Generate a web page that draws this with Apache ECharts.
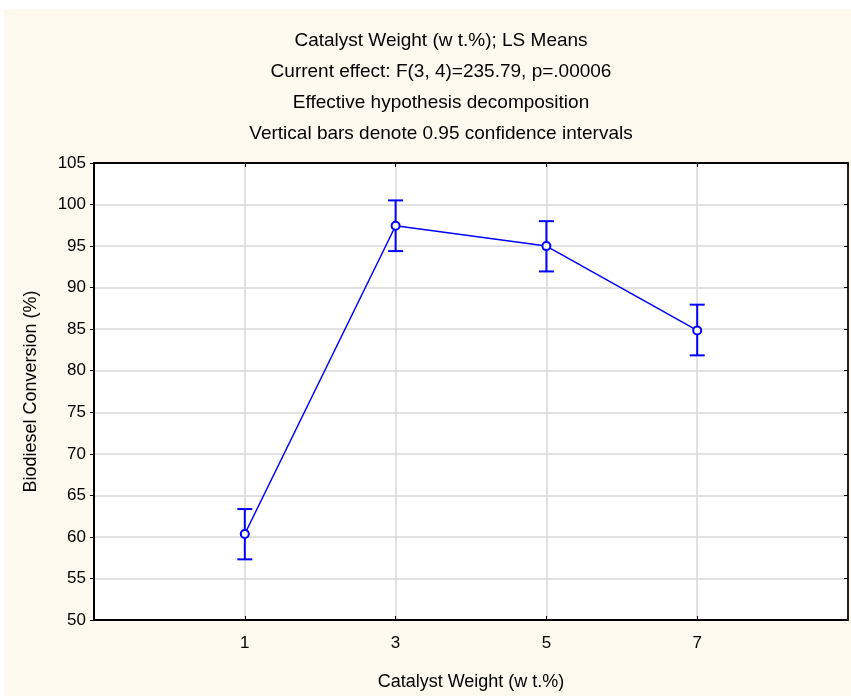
<!DOCTYPE html>
<html>
<head>
<meta charset="utf-8">
<script src="https://cdn.jsdelivr.net/npm/echarts@6/dist/echarts.min.js"></script>
<style>
body {
    margin: 0;
    background: #ffffff;
    width: 851px;
    height: 696px;
    overflow: hidden;
}
#chart {
    position: absolute;
    left: 4px;
    top: 9px;
    width: 847px;
    height: 687px;
    background: #fdf9ee;
}
</style>
</head>
<body>
<div id="chart"></div>
<script>
// catalyst weight levels (wt.%)
const weights = [1, 3, 5, 7];
// LS means of biodiesel conversion (%)
const means = [60.35, 97.45, 95.0, 84.85];
// 0.95 confidence limits
const lower = [57.3, 94.4, 91.95, 81.85];
const upper = [63.35, 100.5, 98.0, 87.95];

const titleLines = [
    "Catalyst Weight (w t.%); LS Means",
    "Current effect: F(3, 4)=235.79, p=.00006",
    "Effective hypothesis decomposition",
    "Vertical bars denote 0.95 confidence intervals",
];

const font = "Liberation Sans, Arial, sans-serif";

let chart = echarts.init(document.getElementById("chart"));

chart.setOption({
    animation: false,
    title: {
        text: titleLines.join("\n"),
        left: 432,
        top: 11,
        textAlign: "center",
        textStyle: {
            fontFamily: font,
            fontSize: 19,
            fontWeight: "normal",
            color: "#000",
            lineHeight: 31,
        },
    },
    grid: {
        left: 90,
        right: 3,
        top: 154,
        bottom: 76,
        show: true,
        backgroundColor: "#ffffff",
        borderWidth: 0,
    },
    xAxis: [
        {
            type: "value",
            min: -1,
            max: 9,
            interval: 2,
            name: "Catalyst Weight (w t.%)",
            nameLocation: "middle",
            nameGap: 53,
            nameTextStyle: { fontFamily: font, fontSize: 18, color: "#000" },
            axisLine: { show: true, onZero: false, lineStyle: { color: "#000", width: 2 } },
            axisTick: { show: true, inside: true, length: 4, lineStyle: { color: "#000" } },
            axisLabel: {
                fontFamily: font,
                fontSize: 17,
                color: "#000",
                margin: 15,
                formatter: (v) => (weights.includes(v) ? String(v) : ""),
            },
            splitLine: { show: true, lineStyle: { color: "#d9d9d9", width: 1.5 } },
        },
        {
            type: "value",
            position: "top",
            min: -1,
            max: 9,
            interval: 2,
            axisLine: { show: true, onZero: false, lineStyle: { color: "#000", width: 2 } },
            axisTick: { show: true, inside: true, length: 4, lineStyle: { color: "#000" } },
            axisLabel: { show: false },
            splitLine: { show: false },
            z: 5,
        },
    ],
    yAxis: [
        {
            type: "value",
            min: 50,
            max: 105,
            interval: 5,
            name: "Biodiesel Conversion (%)",
            nameLocation: "middle",
            nameGap: 54,
            nameTextStyle: { fontFamily: font, fontSize: 18, color: "#000" },
            axisLine: { show: true, onZero: false, lineStyle: { color: "#000", width: 2 } },
            axisTick: { show: true, length: 4, lineStyle: { color: "#000" } },
            axisLabel: { fontFamily: font, fontSize: 17, color: "#000", margin: 8 },
            splitLine: { show: true, lineStyle: { color: "#d9d9d9", width: 1.5 } },
        },
        {
            type: "value",
            position: "right",
            min: 50,
            max: 105,
            interval: 5,
            axisLine: { show: true, onZero: false, lineStyle: { color: "#222", width: 2 } },
            axisTick: { show: true, inside: true, length: 4, lineStyle: { color: "#000" } },
            axisLabel: { show: false },
            splitLine: { show: false },
            z: 5,
        },
    ],
    series: [
        {
            type: "line",
            data: weights.map((w, i) => [w, means[i]]),
            symbol: "circle",
            symbolSize: 8,
            itemStyle: { color: "#ffffff", borderColor: "#0000ff", borderWidth: 2 },
            lineStyle: { color: "#0000ff", width: 1.5 },
            z: 4,
        },
        {
            type: "custom",
            data: weights.map((w, i) => [w, lower[i], upper[i]]),
            renderItem: (params, api) => {
                let lo = api.coord([api.value(0), api.value(1)]);
                let hi = api.coord([api.value(0), api.value(2)]);
                let half = 7.5;
                let style = { stroke: "#0000ff", lineWidth: 2 };
                return {
                    type: "group",
                    children: [
                        { type: "line", shape: { x1: lo[0], y1: lo[1], x2: hi[0], y2: hi[1] }, style },
                        { type: "line", shape: { x1: hi[0] - half, y1: hi[1], x2: hi[0] + half, y2: hi[1] }, style },
                        { type: "line", shape: { x1: lo[0] - half, y1: lo[1], x2: lo[0] + half, y2: lo[1] }, style },
                    ],
                };
            },
            z: 3,
        },
    ],
});
</script>
</body>
</html>
